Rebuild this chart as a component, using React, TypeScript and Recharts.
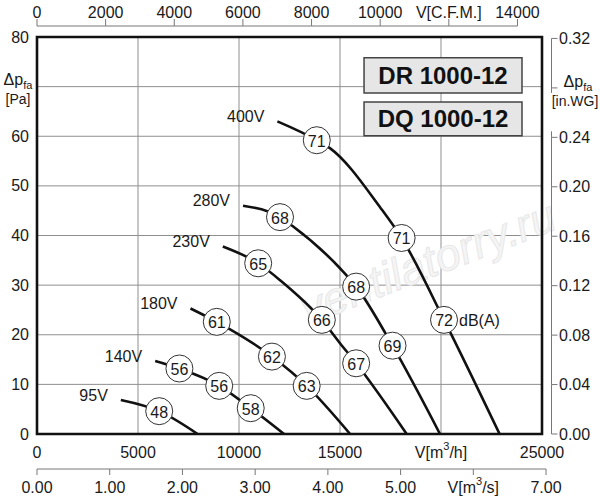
import {
  ComposedChart,
  Line,
  Scatter,
  XAxis,
  YAxis,
  CartesianGrid,
  ReferenceArea,
  LabelList,
  Customized,
} from "recharts";

// fan curves, V in m3/h, pressure in Pa
const curve400 = [
  { v: 11900, p: 63.0 },
  { v: 13850, p: 59.2 },
  { v: 14500, p: 57.6 },
  { v: 17000, p: 45.6 },
  { v: 18050, p: 39.5 },
  { v: 20150, p: 23.0 },
  { v: 22900, p: 0 },
];
const curve280 = [
  { v: 10200, p: 46.0 },
  { v: 12030, p: 43.7 },
  { v: 12650, p: 41.9 },
  { v: 15000, p: 33.4 },
  { v: 15800, p: 29.7 },
  { v: 17600, p: 17.8 },
  { v: 19950, p: 0 },
];
const curve230 = [
  { v: 9200, p: 37.8 },
  { v: 10950, p: 34.4 },
  { v: 12030, p: 31.0 },
  { v: 14100, p: 23.0 },
  { v: 15000, p: 18.3 },
  { v: 15800, p: 14.25 },
  { v: 18300, p: 0 },
];
const curve180 = [
  { v: 7600, p: 25.3 },
  { v: 8900, p: 22.6 },
  { v: 11630, p: 15.6 },
  { v: 13350, p: 9.7 },
  { v: 15500, p: 0 },
];
const curve140 = [
  { v: 5850, p: 14.7 },
  { v: 7050, p: 13.2 },
  { v: 9020, p: 9.7 },
  { v: 10580, p: 5.2 },
  { v: 12230, p: 0 },
];
const curve95 = [
  { v: 4150, p: 6.85 },
  { v: 6050, p: 4.6 },
  { v: 7950, p: 0 },
];

// noise level markers dB(A)
const marks400 = [
  { v: 13850, p: 59.2, db: 71 },
  { v: 18050, p: 39.5, db: 71 },
  { v: 20150, p: 23.0, db: 72, unit: "dB(A)" },
];
const marks280 = [
  { v: 12030, p: 43.7, db: 68 },
  { v: 15800, p: 29.7, db: 68 },
  { v: 17600, p: 17.8, db: 69 },
];
const marks230 = [
  { v: 10950, p: 34.4, db: 65 },
  { v: 14100, p: 23.0, db: 66 },
  { v: 15800, p: 14.25, db: 67 },
];
const marks180 = [
  { v: 8900, p: 22.6, db: 61 },
  { v: 11630, p: 15.6, db: 62 },
  { v: 13350, p: 9.7, db: 63 },
];
const marks140 = [
  { v: 7050, p: 13.2, db: 56 },
  { v: 9020, p: 9.7, db: 56 },
  { v: 10580, p: 5.2, db: 58 },
];
const marks95 = [{ v: 6050, p: 4.6, db: 48 }];

const series = [
  { name: "400V", curve: curve400, marks: marks400 },
  { name: "280V", curve: curve280, marks: marks280 },
  { name: "230V", curve: curve230, marks: marks230 },
  { name: "180V", curve: curve180, marks: marks180 },
  { name: "140V", curve: curve140, marks: marks140 },
  { name: "95V", curve: curve95, marks: marks95 },
];

// axis ticks
const m3hTicks = [0, 5000, 10000, 15000, 20000, 25000];
const paTicks = [0, 10, 20, 30, 40, 50, 60, 70, 80];
const cfmTicks = [0, 2000, 4000, 6000, 8000, 10000, 12000, 14000];
const m3sTicks = [0, 1, 2, 3, 4, 5, 6, 7];
const wgTicks = [0, 0.04, 0.08, 0.12, 0.16, 0.2, 0.24, 0.28, 0.32];

// origin point so the secondary x axes get a series of their own
const anchorPoint = [{ v: 0, p: 0 }];

const V_MAX = 25000;
const P_MAX = 80;
const CFM_MAX = V_MAX / 1.69901;
const M3S_MAX = V_MAX / 3600;
const WG_MAX = P_MAX / 249.089;

const PLOT_W = 505;
const PLOT_H = 397;
const FONT = "'Liberation Sans', Arial, sans-serif";
const TXT = "#1a1a1a";
const AX = "#777";

const near = (a: number, b: number) => Math.abs(a - b) < 1e-6;

const DeltaP = ({ x, y, anchor }: any) => (
  <text x={x} y={y} textAnchor={anchor} fontSize={16} fill={TXT} fontFamily={FONT}>
    Δp
    <tspan fontSize={11} dy={4}>
      fa
    </tspan>
  </text>
);

const PaTick = ({ x, y, payload }: any) => {
  if (payload.value === 70) {
    return (
      <g>
        <DeltaP x={x - 19} y={y - 2} anchor="middle" />
        <text x={x - 19} y={y + 12} textAnchor="middle" dominantBaseline="central" fontSize={14} fill={TXT} fontFamily={FONT}>
          [Pa]
        </text>
      </g>
    );
  }
  return (
    <text x={x - 8} y={y} textAnchor="end" dominantBaseline="central" fontSize={16} fill={TXT} fontFamily={FONT}>
      {payload.value}
    </text>
  );
};

const WgTick = ({ x, y, payload }: any) => {
  const ax = x + 9.5;
  const step = (PLOT_H * 0.04) / WG_MAX;
  const val = payload.value;
  const isUnit = near(val, 0.28);
  const is24 = near(val, 0.24);
  const isTop = near(val, 0.32);
  let up = step;
  if (isTop) up = 0;
  if (is24) up = 6;
  return (
    <g>
      {up > 0 && <line x1={ax} x2={ax} y1={isUnit ? y + 5 : y} y2={y - up} stroke={AX} strokeWidth={1} />}
      <line x1={ax} x2={ax + 6} y1={y} y2={y} stroke={AX} strokeWidth={1} />
      {isUnit ? (
        <g>
          <DeltaP x={x + 36} y={y - 1} anchor="middle" />
          <text x={x + 33} y={y + 13} textAnchor="middle" dominantBaseline="central" fontSize={14} fill={TXT} fontFamily={FONT}>
            [in.WG]
          </text>
        </g>
      ) : (
        <text x={x + 17} y={y} dominantBaseline="central" fontSize={16} fill={TXT} fontFamily={FONT}>
          {val.toFixed(2)}
        </text>
      )}
    </g>
  );
};

const M3hTick = ({ x, y, payload }: any) => (
  <text x={x} y={y + 18} textAnchor="middle" dominantBaseline="central" fontSize={16} fill={TXT} fontFamily={FONT}>
    {payload.value === 20000 ? (
      <>
        V[m<tspan fontSize={11} dy={-6}>3</tspan>
        <tspan dy={6}>/h]</tspan>
      </>
    ) : (
      payload.value
    )}
  </text>
);

const M3sTick = ({ x, y, payload }: any) => {
  const step = PLOT_W / M3S_MAX;
  const ly = y + 5;
  return (
    <g>
      {payload.value > 0 && <line x1={x - step} x2={x} y1={ly} y2={ly} stroke={AX} strokeWidth={1} />}
      <line x1={x} x2={x} y1={ly} y2={ly + 6} stroke={AX} strokeWidth={1} />
      <text x={x} y={y + 23} textAnchor="middle" dominantBaseline="central" fontSize={16} fill={TXT} fontFamily={FONT}>
        {payload.value === 6 ? (
          <>
            V[m<tspan fontSize={11} dy={-6}>3</tspan>
            <tspan dy={6}>/s]</tspan>
          </>
        ) : (
          payload.value.toFixed(2)
        )}
      </text>
    </g>
  );
};

const CfmTick = ({ x, y, payload }: any) => {
  const step = (PLOT_W * 2000) / CFM_MAX;
  const ly = y - 11;
  return (
    <g>
      {payload.value > 0 && <line x1={x - step} x2={x} y1={ly} y2={ly} stroke={AX} strokeWidth={1} />}
      <line x1={x} x2={x} y1={ly} y2={ly - 7} stroke={AX} strokeWidth={1} />
      <text x={x} y={y - 25} textAnchor="middle" dominantBaseline="central" fontSize={16} fill={TXT} fontFamily={FONT}>
        {payload.value === 12000 ? "V[C.F.M.]" : payload.value}
      </text>
    </g>
  );
};

const Marker = (props: any) => {
  const { cx, cy, payload } = props;
  return (
    <g>
      <circle cx={cx} cy={cy} r={13.5} fill="#fff" stroke="#333" strokeWidth={1} />
      <text x={cx} y={cy + 1} textAnchor="middle" dominantBaseline="central" fontSize={16} fill={TXT} fontFamily={FONT}>
        {payload.db}
      </text>
      {payload.unit && (
        <text x={cx + 15} y={cy + 1} dominantBaseline="central" fontSize={16} fill={TXT} fontFamily={FONT}>
          {payload.unit}
        </text>
      )}
    </g>
  );
};

const Nothing = () => <g />;

const voltLabel = (name: string) => (props: any) =>
  props.index === 0 ? (
    <text x={props.x - 13} y={props.y - 5} textAnchor="end" dominantBaseline="central" fontSize={16} fill={TXT} fontFamily={FONT}>
      {name}
    </text>
  ) : (
    <g />
  );

const Watermark = () => (
  <text
    x={428}
    y={262}
    textAnchor="middle"
    dominantBaseline="central"
    fontSize={45}
    fontStyle="italic"
    fontFamily={FONT}
    fill="#f5f5f5"
    stroke="#e8e8e8"
    strokeWidth={1}
    transform="rotate(-21 428 262)"
  >
    ventilatorry.ru
  </text>
);

const App = () => {
  return (
    <div style={{ position: "absolute", left: 0, top: 0, background: "#fff" }}>
      <ComposedChart width={600} height={500} margin={{ top: 0, right: 0, bottom: 0, left: 0 }}>
        <CartesianGrid xAxisId="m3h" yAxisId="pa" stroke="#8f8f8f" strokeWidth={1} />
        <XAxis
          xAxisId="m3h"
          dataKey="v"
          type="number"
          domain={[0, V_MAX]}
          ticks={m3hTicks}
          allowDataOverflow
          interval={0}
          height={30}
          axisLine={false}
          tickLine={false}
          tickSize={0}
          tickMargin={0}
          tick={<M3hTick />}
        />
        <XAxis
          xAxisId="m3s"
          dataKey="v"
          type="number"
          domain={[0, M3S_MAX]}
          ticks={m3sTicks}
          allowDataOverflow
          interval={0}
          height={36}
          axisLine={false}
          tickLine={false}
          tickSize={0}
          tickMargin={0}
          tick={<M3sTick />}
        />
        <XAxis
          xAxisId="cfm"
          dataKey="v"
          orientation="top"
          type="number"
          domain={[0, CFM_MAX]}
          ticks={cfmTicks}
          allowDataOverflow
          interval={0}
          height={37}
          axisLine={false}
          tickLine={false}
          tickSize={0}
          tickMargin={0}
          tick={<CfmTick />}
        />
        <YAxis
          yAxisId="pa"
          dataKey="p"
          type="number"
          domain={[0, P_MAX]}
          ticks={paTicks}
          allowDataOverflow
          interval={0}
          width={37}
          axisLine={false}
          tickLine={false}
          tickSize={0}
          tickMargin={0}
          tick={<PaTick />}
        />
        <YAxis
          yAxisId="wg"
          dataKey="p"
          orientation="right"
          type="number"
          domain={[0, WG_MAX]}
          ticks={wgTicks}
          allowDataOverflow
          interval={0}
          width={58}
          axisLine={false}
          tickLine={false}
          tickSize={0}
          tickMargin={0}
          tick={<WgTick />}
        />
        <Customized component={<Watermark />} />
        <ReferenceArea
          xAxisId="m3h"
          yAxisId="pa"
          x1={16190}
          x2={24010}
          y1={68.7}
          y2={75.8}
          fill="#e6e6e6"
          fillOpacity={1}
          stroke="#444"
          strokeWidth={1.5}
          label={{ value: "DR 1000-12", position: "center", fontSize: 24, fontWeight: "bold", fill: "#111", fontFamily: FONT }}
        />
        <ReferenceArea
          xAxisId="m3h"
          yAxisId="pa"
          x1={16190}
          x2={24010}
          y1={60.1}
          y2={66.9}
          fill="#e6e6e6"
          fillOpacity={1}
          stroke="#444"
          strokeWidth={1.5}
          label={{ value: "DQ 1000-12", position: "center", fontSize: 24, fontWeight: "bold", fill: "#111", fontFamily: FONT }}
        />
        <Scatter xAxisId="cfm" yAxisId="wg" data={anchorPoint} dataKey="p" shape={<Nothing />} isAnimationActive={false} />
        <Scatter xAxisId="m3s" yAxisId="pa" data={anchorPoint} dataKey="p" shape={<Nothing />} isAnimationActive={false} />
        {series.map((s) => (
          <Line
            key={s.name}
            xAxisId="m3h"
            yAxisId="pa"
            data={s.curve}
            dataKey="p"
            type="monotone"
            stroke="#111"
            strokeWidth={2.6}
            dot={false}
            activeDot={false}
            isAnimationActive={false}
          >
            <LabelList dataKey="p" content={voltLabel(s.name)} />
          </Line>
        ))}
        {series.map((s) => (
          <Scatter
            key={`m-${s.name}`}
            xAxisId="m3h"
            yAxisId="pa"
            data={s.marks}
            dataKey="p"
            shape={<Marker />}
            isAnimationActive={false}
          />
        ))}
        <ReferenceArea
          xAxisId="m3h"
          yAxisId="pa"
          x1={0}
          x2={V_MAX}
          y1={0}
          y2={P_MAX}
          fill="none"
          stroke="#111"
          strokeWidth={2.6}
        />
      </ComposedChart>
    </div>
  );
};

export default App;
